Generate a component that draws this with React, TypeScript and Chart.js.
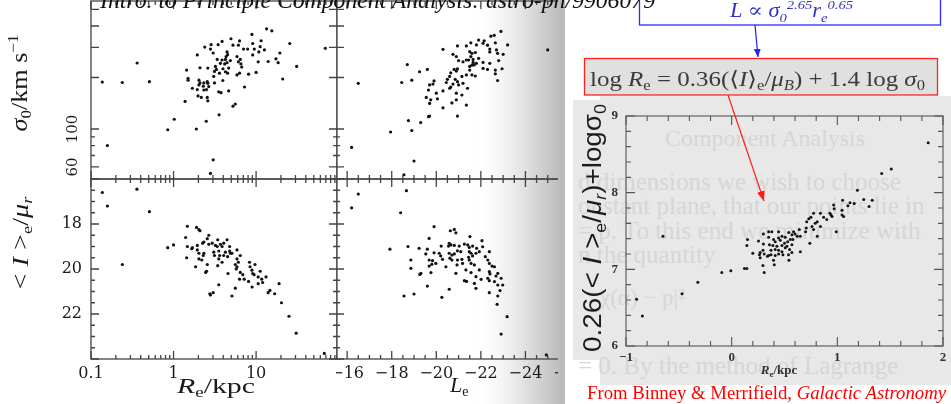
import React, { useEffect, useRef } from 'react';
import { Chart, registerables } from 'chart.js';

Chart.register(...registerables);

// ---------------- data ----------------
// top-left: R_e (kpc) vs sigma_0 (km/s)
const TL_R = [0.137,0.239,0.362,0.51,0.158,0.85,1.02,1.38,1.89,2.49,
  3.56,3.02,2.8,5.25,5.6,7.24,21,31,25.6,69,
  13.4,15.5,8.9,11.5,18.5,14,19.4,17.4,10,8.1,
  4.96,6.3,3.87,2.85,3.47,5.25,6.1,9.1,2.39,2.8,
  3.02,7.05,7.9,11.2,12.6,9.5,4.45,4.52,4.33,1.94,
  9.1,10.8,5.87,6.43,3.38,3.87,4.25,4.88,10.6,3.7,
  4.16,4.45,6.1,6.55,2.09,2.6,3.22,3.31,3.13,3.97,
  4.25,4.65,6.7,1.44,3.6,4.52,5.87,6.3,3.07,1.5,
  1.5,2.03,2.09,2.56,2.6,2.33,3.13,3.95,2.03,2.29,
  2.67,2.51,1.69,1.94,2.33,3.53,3.76,4.65,1.98,2.17,
  2.56,2.6];
const TL_SIGMA = [188,187,243,189,80,99,114,145,100,111,
  121,66,55,136,140,176,196,232,316,296,
  385,375,357,328,244,248,278,257,214,209,
  337,327,325,311,311,309,309,316,301,293,
  278,293,293,303,290,293,282,272,265,271,
  271,282,265,255,255,253,255,251,247,242,
  240,244,247,240,228,227,232,223,217,225,
  216,227,230,221,212,212,207,212,203,198,
  193,193,186,189,185,186,186,192,181,178,
  177,170,173,170,169,165,163,167,156,153,
  153,146];

// top-right: L_e vs sigma_0
const TR_L = [-16.5,-16.2,-17.95,-18.7,-18.45,-18.9,-19.25,-19.6,-18.75,-18.9,
  -19.3,-19.65,-19.0,-18.55,-25.0,-20.3,-20.95,-21.35,-20.3,-19.7,
  -22.9,-22.45,-22.6,-21.9,-22.15,-22.1,-21.55,-21.35,-20.95,-21.8,
  -22.65,-23.2,-22.3,-22.4,-22.4,-22.7,-22.75,-23.0,-21.5,-21.6,
  -21.75,-20.75,-20.9,-21.55,-21.65,-21.45,-21.9,-21.0,-21.2,-21.35,
  -21.65,-21.7,-21.8,-22.1,-22.4,-22.8,-21.5,-21.6,-22.3,-22.1,
  -22.65,-22.95,-20.8,-20.95,-20.9,-20.65,-20.6,-21.5,-21.35,-21.6,
  -21.75,-21.15,-20.85,-20.95,-20.5,-20.45,-22.75,-22.65,-19.9,-19.85,
  -19.7,-20.75,-20.65,-21.0,-21.2,-21.4,-19.65,-20.0,-20.3,-20.6,
  -20.9,-21.15,-19.55,-19.75,-20.05,-20.9,-20.7,-19.7];
const TR_SIGMA = [185,78,96,238,187,193,216,223,112,98,
  109,118,65,54,290,292,119,138,133,141,
  372,349,353,331,328,317,319,306,306,310,
  319,310,309,293,282,290,277,273,283,277,
  280,273,265,265,255,253,259,251,247,253,
  245,237,242,245,242,251,232,236,223,226,
  221,225,223,225,218,213,203,221,207,207,
  204,203,195,189,195,187,192,210,191,183,
  181,183,176,181,185,173,169,162,167,173,
  162,158,153,148,150,148,142,119];

// bottom-left: R_e vs <I>_e / mu_r
const BL_R = [0.137,0.158,0.36,0.51,0.24,0.85,1.0,1.4,1.47,1.44,
  1.66,1.85,1.47,1.9,2.03,2.09,2.75,3.02,3.53,5.1,
  5.6,4.57,25,30.6,20.3,19,14.7,14.0,16.8,67,
  2.67,2.56,2.33,2.67,2.94,3.43,4.45,3.22,3.38,3.7,
  3.87,4.05,4.78,1.94,2.25,1.69,1.94,2.03,2.33,2.29,
  3.07,3.53,4.25,4.78,5.1,5.87,3.13,3.62,4.05,4.52,
  4.88,6.43,2.03,2.2,3.53,3.87,5.87,6.1,2.56,3.43,
  5.6,5.87,5.75,8.32,8.45,9.7,2.51,2.45,6.43,6.9,
  8.9,9.1,11.2,6.3,7.18,8.1,10.6,11.7,13.2,9.46,
  10.6,12.0,8.95,2.8];
const BL_MU = [16.6,17.2,16.45,17.45,19.8,19.05,18.93,18.6,19.0,19.5,
  19.1,19.9,18.1,18.15,18.25,18.3,21.1,21.05,20.7,21.2,
  20.85,20.2,22.1,22.85,21.5,20.65,20.95,21.05,21.1,23.75,
  18.5,18.65,18.8,18.9,18.85,18.7,18.7,18.95,19.0,18.9,
  19.0,18.85,19.0,18.95,18.85,19.05,19.15,19.3,19.3,19.4,
  19.25,19.2,19.25,19.2,19.3,19.15,19.4,19.4,19.4,19.45,
  19.3,19.4,19.55,19.6,19.55,19.7,19.55,19.7,19.8,19.85,
  19.8,19.9,20.0,19.7,19.9,19.8,20.1,20.15,20.15,20.25,
  20.05,20.2,20.1,20.45,20.45,20.55,20.35,20.45,20.35,20.25,
  20.65,20.6,20.8,21.15];

// bottom-right: L_e vs <I>_e / mu_r
const BR_L = [-16.5,-16.2,-18.66,-18.4,-17.92,-18.55,-19.0,-19.6,-20.25,-20.58,
  -19.9,-23.18,-22.91,-22.73,-24.94,-18.73,-18.86,-18.86,-19.26,-20.63,
  -20.81,-20.88,-19.68,-21.51,-22.05,-19.23,-19.6,-20.22,-20.58,-20.55,
  -20.66,-20.81,-21.03,-21.26,-21.41,-21.48,-21.63,-21.81,-22.08,-19.9,
  -20.13,-20.58,-20.7,-20.81,-20.95,-21.1,-21.48,-21.56,-21.78,-21.93,
  -22.38,-19.53,-19.68,-19.83,-20.2,-20.28,-20.61,-20.7,-20.95,-21.15,
  -21.45,-21.48,-21.63,-22.2,-22.31,-19.68,-19.8,-19.98,-20.43,-20.93,
  -21.18,-21.56,-21.71,-22.38,-22.5,-22.61,-19.31,-19.76,-20.88,-21.33,
  -21.56,-21.93,-22.38,-22.41,-22.76,-22.68,-21.78,-22.01,-21.26,-21.36,
  -22.31,-22.38,-22.61,-22.76,-22.91,-22.98,-21.71,-21.78,-22.38,-22.86,
  -22.76];
const BR_MU = [16.67,17.28,16.52,17.5,19.12,21.2,21.11,20.76,21.26,20.9,
  18.12,22.12,22.89,21.57,23.82,19.0,19.6,19.97,20.24,18.3,
  18.24,18.39,18.64,18.56,18.74,19.08,19.12,18.98,18.86,18.98,
  18.93,18.95,18.98,18.89,18.93,19.04,18.98,19.08,19.01,19.28,
  19.3,19.3,19.38,19.33,19.19,19.23,19.23,19.3,19.3,19.23,
  19.23,19.33,19.6,19.63,19.42,19.57,19.52,19.6,19.6,19.57,
  19.48,19.6,19.42,19.45,19.6,19.87,19.79,19.75,19.9,19.82,
  19.75,19.75,19.82,19.75,19.87,19.9,20.19,20.16,20.19,20.04,
  20.16,20.04,20.12,20.22,20.19,20.31,20.34,20.46,20.52,20.55,
  20.41,20.52,20.56,20.71,20.41,20.71,20.64,20.86,21.05,20.96,
  21.2];

// right: fundamental plane, log R_e vs 0.26(<I>_e/mu_r)+log sigma_0
const FP_X = [1.86,1.42,1.51,1.19,1.05,1.12,1.16,1.25,1.33,1.3,
  0.965,0.97,1.045,1.1,0.93,0.94,0.95,1.045,1.06,0.87,
  0.9,0.84,0.775,0.73,0.75,0.79,0.81,0.71,0.84,0.76,
  0.775,0.706,0.7,0.81,0.99,0.64,0.62,0.586,0.6,0.54,
  0.57,0.65,0.74,0.444,0.476,0.507,0.555,0.58,0.53,0.35,
  0.38,0.3,0.444,0.46,0.396,0.412,0.35,0.15,0.144,0.254,
  0.3,0.358,0.39,0.428,0.476,0.5,0.523,0.548,0.57,0.372,
  0.412,0.444,0.476,0.507,0.57,0.65,0.2,0.263,0.27,0.296,
  0.308,0.349,0.372,0.412,0.444,0.485,0.538,0.27,0.339,0.396,
  0.403,0.542,0.296,0.308,0.121,0.144,-0.093,-0.008,-0.32,-0.65,
  -0.9,-0.845,-0.47];
const FP_Y = [8.65,8.25,8.31,8.03,7.9,7.87,7.86,7.91,7.9,7.82,
  7.84,7.79,7.77,7.83,7.73,7.71,7.69,7.71,7.69,7.68,
  7.65,7.73,7.73,7.66,7.68,7.6,7.62,7.62,7.56,7.56,
  7.52,7.54,7.49,7.43,7.49,7.52,7.43,7.49,7.46,7.48,
  7.45,7.43,7.34,7.49,7.43,7.42,7.39,7.39,7.36,7.49,
  7.49,7.46,7.41,7.38,7.39,7.36,7.42,7.39,7.31,7.37,
  7.33,7.32,7.31,7.3,7.31,7.34,7.3,7.26,7.32,7.25,
  7.26,7.25,7.23,7.28,7.22,7.23,7.21,7.19,7.22,7.25,
  7.2,7.18,7.19,7.18,7.2,7.19,7.19,7.15,7.17,7.12,
  7.06,7.12,7.05,6.96,7.01,7.01,6.96,6.98,6.83,7.43,
  6.61,6.39,6.68];

// ---------------- ticks ----------------
const R_TICKS = [0.1, 1, 10];
const R_LABELS = ['0.1', '1', '10'];
const R_MINOR = [0.2,0.3,0.4,0.5,0.6,0.7,0.8,0.9,2,3,4,5,6,7,8,9,20,30,40,50,60,70,80,90];
const SIGMA_TICKS = [60, 100];
const SIGMA_LABELS = ['60', '100'];
const SIGMA_MAJOR = [60, 100, 200, 300, 400, 500];
const SIGMA_MINOR = [70, 80, 90];
const MU_TICKS = [18, 20, 22];
const MU_LABELS = ['18', '20', '22'];
const MU_MAJOR = [16, 18, 20, 22, 24];
const MU_MINOR = [16.5,17,17.5,18.5,19,19.5,20.5,21,21.5,22.5,23,23.5];
const L_TICKS = [-16, -18, -20, -22, -24, -26];
const L_LABELS = ['\u221216', '\u221218', '\u221220', '\u221222', '\u221224', '\u221226'];
const L_MINOR = [-15.5,-16.5,-17,-17.5,-18.5,-19,-19.5,-20.5,-21,-21.5,-22.5,-23,-23.5,-24.5,-25,-25.5];
const FP_X_TICKS = [-1, 0, 1, 2];
const FP_X_LABELS = ['\u22121', '0', '1', '2'];
const FP_X_MINOR = [-0.8,-0.6,-0.4,-0.2,0.2,0.4,0.6,0.8,1.2,1.4,1.6,1.8];
const FP_Y_TICKS = [6, 7, 8, 9];
const FP_Y_LABELS = ['6', '7', '8', '9'];
const FP_Y_MINOR = [6.2,6.4,6.6,6.8,7.2,7.4,7.6,7.8,8.2,8.4,8.6,8.8];

const PANEL_FONT = { family: "'DejaVu Serif', serif", size: 16 };
const SERIF = "'Liberation Serif', 'DejaVu Serif', serif";

function makeFrameTicks(f: any) {
  return {
    id: 'frameTicks',
    afterDatasetsDraw(chart: any) {
      const { ctx, chartArea } = chart;
      const { left, right, top, bottom } = chartArea;
      const xs = chart.scales.x;
      const ys = chart.scales.y;
      ctx.save();
      ctx.strokeStyle = f.color;
      ctx.lineWidth = f.width;
      ctx.strokeRect(left, top, right - left, bottom - top);
      ctx.beginPath();
      const tickX = (vals: number[], len: number) => {
        vals.forEach((v) => {
          const p = xs.getPixelForValue(v);
          if (p < left - 1 || p > right + 1) return;
          ctx.moveTo(p, bottom); ctx.lineTo(p, bottom - len);
          ctx.moveTo(p, top); ctx.lineTo(p, top + len);
        });
      };
      const tickY = (vals: number[], len: number) => {
        vals.forEach((v) => {
          const p = ys.getPixelForValue(v);
          if (p < top - 1 || p > bottom + 1) return;
          ctx.moveTo(left, p); ctx.lineTo(left + len, p);
          ctx.moveTo(right, p); ctx.lineTo(right - len, p);
        });
      };
      tickX(f.xMajor, f.majorLen);
      tickX(f.xMinor, f.minorLen);
      tickY(f.yMajor, f.majorLen);
      tickY(f.yMinor, f.minorLen);
      ctx.stroke();
      ctx.restore();
    },
  };
}

function axisOpts(a: any) {
  return {
    type: a.type,
    position: a.position,
    min: a.min,
    max: a.max,
    reverse: !!a.reverse,
    grid: { display: false, drawTicks: false },
    border: { display: false },
    ticks: {
      display: !!a.show,
      autoSkip: false,
      minRotation: a.rotation || 0,
      maxRotation: a.rotation || 0,
      crossAlign: a.crossAlign || 'near',
      padding: a.padding || 0,
      color: a.color || '#1a1a1a',
      font: a.font || PANEL_FONT,
      callback: (_v: any, i: number) => (a.labels[i] !== undefined ? a.labels[i] : ''),
    },
    afterBuildTicks: (scale: any) => {
      scale.ticks = a.ticks.map((v: number) => ({ value: v }));
    },
    afterFit: (scale: any) => {
      if (a.position === 'left') scale.width = a.size;
      else scale.height = a.size;
      scale.paddingTop = 0;
      scale.paddingBottom = 0;
      scale.paddingLeft = 0;
      scale.paddingRight = 0;
    },
  };
}

function ScatterPanel(props: any) {
  const { xs, ys, x, y, padding, width, height, frame, dot, radius, left, top } = props;
  const ref = useRef<HTMLCanvasElement>(null);
  useEffect(() => {
    const chart = new Chart(ref.current as HTMLCanvasElement, {
      type: 'scatter',
      data: {
        datasets: [{
          data: xs.map((v: number, i: number) => ({ x: v, y: ys[i] })),
          pointRadius: radius,
          pointHoverRadius: radius,
          pointBackgroundColor: dot,
          pointBorderWidth: 0,
          borderWidth: 0,
        }],
      },
      options: {
        animation: false,
        responsive: false,
        maintainAspectRatio: false,
        events: [],
        layout: { padding, autoPadding: false },
        plugins: { legend: { display: false }, tooltip: { enabled: false } },
        scales: { x: axisOpts(x), y: axisOpts(y) } as any,
      },
      plugins: [makeFrameTicks(frame)],
    } as any);
    return () => chart.destroy();
  }, []);
  return (
    <canvas
      ref={ref}
      width={width}
      height={height}
      style={{ position: 'absolute', left, top, width, height }}
    />
  );
}

const LEFT_FRAME = { color: '#444', width: 1.3, majorLen: 8, minorLen: 4 };

export default function App() {
  return (
    <div style={{ position: 'absolute', left: 0, top: 0, width: 951, height: 404, overflow: 'hidden', background: '#fff' }}>
      {/* background layer */}
      <svg width={951} height={404} style={{ position: 'absolute', left: 0, top: 0 }}>
        <defs>
          <linearGradient id="gutter" x1="0" y1="0" x2="1" y2="0">
            <stop offset="0" stopColor="#ffffff" stopOpacity={0} />
            <stop offset="0.55" stopColor="#e6e6e6" stopOpacity={1} />
            <stop offset="1" stopColor="#bdbdbd" stopOpacity={1} />
          </linearGradient>
        </defs>
        <rect x={470} y={0} width={90} height={404} fill="url(#gutter)" />
        <rect x={560} y={0} width={5} height={404} fill="#b9b9b9" />
        <rect x={573} y={100} width={378} height={260} fill="#e8e8e8" />
        <rect x={600} y={96} width={351} height={289} fill="#e8e8e8" />
        <g fill="#d6d6d6" fontFamily={SERIF}>
          <text x={665} y={146} fontSize={24} textLength={200} lengthAdjust="spacingAndGlyphs">Component Analysis</text>
          <text x={578} y={190} fontSize={25}>d dimensions we wish to choose</text>
          <text x={578} y={214} fontSize={25}>onstant plane, that our points lie in</text>
          <text x={578} y={239} fontSize={25}>= p. To this end we minimize with</text>
          <text x={578} y={263} fontSize={25}>n the quantity</text>
          <text x={600} y={305} fontSize={23}>{'\u03c7(\u03b1) \u2212 p|\u00b2'}</text>
          <text x={578} y={374} fontSize={25}>= 0. By the method of Lagrange</text>
        </g>
      </svg>

      {/* top-left: R_e vs sigma_0 */}
      <ScatterPanel
        left={0} top={0} width={345} height={185}
        padding={{ left: 0, top: 1, right: 8, bottom: 0 }}
        xs={TL_R} ys={TL_SIGMA} dot="#111" radius={1.6}
        x={{ type: 'logarithmic', position: 'bottom', min: 0.1, max: 95.5, ticks: R_TICKS, labels: R_LABELS, show: false, size: 6 }}
        y={{ type: 'logarithmic', position: 'left', min: 51, max: 560, ticks: SIGMA_TICKS, labels: SIGMA_LABELS, show: true, size: 91, rotation: 90, crossAlign: 'center', padding: 4, font: { family: "'DejaVu Serif', serif", size: 15 } }}
        frame={{ ...LEFT_FRAME, xMajor: R_TICKS, xMinor: R_MINOR, yMajor: SIGMA_MAJOR, yMinor: SIGMA_MINOR }}
      />

      {/* top-right: L_e vs sigma_0 */}
      <div style={{ position: 'absolute', left: 336, top: 0, width: 222, height: 185, overflow: 'hidden' }}>
        <ScatterPanel
          left={0} top={0} width={240} height={185}
          padding={{ left: 0, top: 1, right: 6, bottom: 0 }}
          xs={TR_L} ys={TR_SIGMA} dot="#111" radius={1.6}
          x={{ type: 'linear', position: 'bottom', min: -26, max: -15.5, reverse: true, ticks: L_TICKS, labels: L_LABELS, show: false, size: 6 }}
          y={{ type: 'logarithmic', position: 'left', min: 51, max: 560, ticks: SIGMA_TICKS, labels: SIGMA_LABELS, show: false, size: 0 }}
          frame={{ ...LEFT_FRAME, xMajor: L_TICKS, xMinor: L_MINOR, yMajor: SIGMA_MAJOR, yMinor: SIGMA_MINOR }}
        />
      </div>

      {/* bottom-left: R_e vs <I>_e/mu_r */}
      <ScatterPanel
        left={0} top={175} width={345} height={229}
        padding={{ left: 0, top: 4, right: 8, bottom: 0 }}
        xs={BL_R} ys={BL_MU} dot="#111" radius={1.6}
        x={{ type: 'logarithmic', position: 'bottom', min: 0.1, max: 95.5, ticks: R_TICKS, labels: R_LABELS, show: true, size: 45, padding: 5 }}
        y={{ type: 'linear', position: 'left', min: 16, max: 24, reverse: true, ticks: MU_TICKS, labels: MU_LABELS, show: true, size: 91, padding: 9 }}
        frame={{ ...LEFT_FRAME, xMajor: R_TICKS, xMinor: R_MINOR, yMajor: MU_MAJOR, yMinor: MU_MINOR }}
      />

      {/* bottom-right: L_e vs <I>_e/mu_r */}
      <div style={{ position: 'absolute', left: 336, top: 175, width: 222, height: 229, overflow: 'hidden' }}>
        <ScatterPanel
          left={0} top={0} width={240} height={229}
          padding={{ left: 0, top: 4, right: 6, bottom: 0 }}
          xs={BR_L} ys={BR_MU} dot="#111" radius={1.6}
          x={{ type: 'linear', position: 'bottom', min: -26, max: -15.5, reverse: true, ticks: L_TICKS, labels: L_LABELS, show: true, size: 45, padding: 5 }}
          y={{ type: 'linear', position: 'left', min: 16, max: 24, reverse: true, ticks: MU_TICKS, labels: MU_LABELS, show: false, size: 0 }}
          frame={{ ...LEFT_FRAME, xMajor: L_TICKS, xMinor: L_MINOR, yMajor: MU_MAJOR, yMinor: MU_MINOR }}
        />
      </div>

      {/* right: fundamental plane */}
      <ScatterPanel
        left={573} top={100} width={378} height={285}
        padding={{ left: 0, top: 16, right: 8, bottom: 0 }}
        xs={FP_X} ys={FP_Y} dot="#151515" radius={1.5}
        x={{ type: 'linear', position: 'bottom', min: -1, max: 2, ticks: FP_X_TICKS, labels: FP_X_LABELS, show: true, size: 39, padding: 4, color: '#333', font: { family: SERIF, size: 13, weight: 'bold' } }}
        y={{ type: 'linear', position: 'left', min: 6, max: 9, ticks: FP_Y_TICKS, labels: FP_Y_LABELS, show: true, size: 53, padding: 8, color: '#333', font: { family: SERIF, size: 13, weight: 'bold' } }}
        frame={{ color: '#555', width: 1.1, majorLen: 9, minorLen: 5, xMajor: FP_X_TICKS, xMinor: FP_X_MINOR, yMajor: FP_Y_TICKS, yMinor: FP_Y_MINOR }}
      />

      {/* annotation layer */}
      <svg width={951} height={404} style={{ position: 'absolute', left: 0, top: 0 }}>
        <defs>
          <marker id="headBlue" markerWidth={8} markerHeight={7} refX={8} refY={3.5} orient="auto" markerUnits="userSpaceOnUse">
            <path d="M0,0 L8,3.5 L0,7 z" fill="#2020ff" />
          </marker>
          <marker id="headRed" markerWidth={10} markerHeight={8} refX={10} refY={4} orient="auto" markerUnits="userSpaceOnUse">
            <path d="M0,0 L10,4 L0,8 z" fill="#ff1a1a" />
          </marker>
        </defs>

        {/* left axis titles */}
        <g fontFamily={SERIF} fill="#1a1a1a">
          <text transform="translate(27,83) rotate(-90)" textAnchor="middle" fontSize={23} textLength={97} lengthAdjust="spacingAndGlyphs">
            <tspan fontStyle="italic">{'\u03c3'}</tspan><tspan fontSize={15} dy={4}>0</tspan><tspan dy={-4}>/km s</tspan><tspan fontSize={15} dy={-9}>{'\u22121'}</tspan>
          </text>
          <text transform="translate(28,243) rotate(-90)" textAnchor="middle" fontSize={23} textLength={93} lengthAdjust="spacingAndGlyphs">
            {'< '}<tspan fontStyle="italic">I</tspan>{' >'}<tspan fontSize={15} dy={4}>e</tspan><tspan dy={-4}>/</tspan><tspan fontStyle="italic">{'\u03bc'}</tspan><tspan fontSize={15} fontStyle="italic" dy={4}>r</tspan>
          </text>
          <text x={216} y={393} textAnchor="middle" fontSize={22} textLength={78} lengthAdjust="spacingAndGlyphs">
            <tspan fontStyle="italic">R</tspan><tspan fontSize={14} dy={4}>e</tspan><tspan dy={-4}>/kpc</tspan>
          </text>
          <text x={450} y={392} fontSize={22}>
            <tspan fontStyle="italic">L</tspan><tspan fontSize={14} dy={4}>e</tspan>
          </text>
        </g>

        {/* right chart titles */}
        <text transform="translate(601,228) rotate(-90)" textAnchor="middle" fontFamily="'Liberation Sans', 'DejaVu Sans', sans-serif" fontSize={25} fill="#1c1c1c" textLength={248} lengthAdjust="spacingAndGlyphs">
          {'0.26(< '}<tspan fontStyle="italic">I</tspan>{' >'}<tspan fontSize={16} dy={5}>e</tspan><tspan dy={-5}>/</tspan><tspan fontStyle="italic">{'\u03bc'}</tspan><tspan fontSize={16} fontStyle="italic" dy={5}>r</tspan><tspan dy={-5}>{')+log\u03c3'}</tspan><tspan fontSize={16} dy={5}>0</tspan>
        </text>
        <text x={779} y={374} textAnchor="middle" fontFamily={SERIF} fontWeight="bold" fontSize={13} fill="#333">
          <tspan fontStyle="italic">R</tspan><tspan fontSize={9} dy={3}>e</tspan><tspan dy={-3}>/kpc</tspan>
        </text>

        {/* blue box */}
        <rect x={639.5} y={-10} width={301} height={35} fill="#ffffff" stroke="#2b2bff" strokeWidth={1.3} />
        <text x={730} y={17} fontFamily={SERIF} fontStyle="italic" fontSize={20} fill="#3333cc" textLength={123} lengthAdjust="spacingAndGlyphs">
          {'L \u221d \u03c3'}<tspan fontSize={13} dy={5}>0</tspan><tspan fontSize={13} dy={-13}>2.65</tspan><tspan dy={8}>r</tspan><tspan fontSize={13} dy={5}>e</tspan><tspan fontSize={13} dy={-13}>0.65</tspan>
        </text>
        <line x1={755} y1={25} x2={758} y2={57} stroke="#2020ff" strokeWidth={1.2} markerEnd="url(#headBlue)" />

        {/* page title (drawn over the box edge, as in the scan) */}
        <text x={100} y={8} fontFamily={SERIF} fontStyle="italic" fontSize={24} fill="#111" textLength={555} lengthAdjust="spacingAndGlyphs">
          Intro. to Principle Component Analysis: astro-ph/9906079
        </text>

        {/* red box */}
        <rect x={584.5} y={58.5} width={353} height={36.5} fill="#e0e0e0" stroke="#ff2020" strokeWidth={1.3} />
        <text x={590} y={86} fontFamily={SERIF} fontSize={21} fill="#3a3a3a" textLength={335} lengthAdjust="spacingAndGlyphs">
          {'log '}<tspan fontStyle="italic">R</tspan><tspan fontSize={14} dy={4}>e</tspan><tspan dy={-4}>{' = 0.36(\u27e8'}</tspan><tspan fontStyle="italic">I</tspan>{'\u27e9'}<tspan fontSize={14} dy={4}>e</tspan><tspan dy={-4}>/</tspan><tspan fontStyle="italic">{'\u03bc'}</tspan><tspan fontSize={14} fontStyle="italic" dy={4}>B</tspan><tspan dy={-4}>{') + 1.4 log '}</tspan><tspan fontStyle="italic">{'\u03c3'}</tspan><tspan fontSize={14} dy={4}>0</tspan>
        </text>
        <line x1={728} y1={95} x2={764} y2={201} stroke="#ff1a1a" strokeWidth={1.2} markerEnd="url(#headRed)" />

        {/* caption */}
        <text x={587} y={399} fontFamily={SERIF} fontSize={18} fill="#ff0000" textLength={359} lengthAdjust="spacingAndGlyphs">
          {'From Binney & Merrifield, '}<tspan fontStyle="italic">Galactic Astronomy</tspan>
        </text>
      </svg>
    </div>
  );
}
